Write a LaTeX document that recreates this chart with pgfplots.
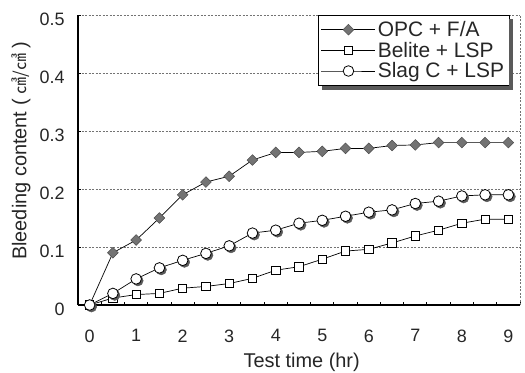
\documentclass[border=0pt]{standalone}
\usepackage{fontspec}
\setmainfont{Liberation Sans}
\newfontfamily\cjk{Noto Sans CJK KR}
\usepackage{pgfplots}
\usepackage{pgfplotstable}
\pgfplotsset{compat=1.18}
\definecolor{shadowgray}{RGB}{90,90,90}
\pgfplotstableread{
t    opc    bel    slag
0    0      0      0
0.5  0.090  0.012  0.020
1    0.112  0.018  0.045
1.5  0.150  0.020  0.064
2    0.190  0.029  0.077
2.5  0.212  0.032  0.089
3    0.222  0.037  0.102
3.5  0.250  0.046  0.124
4    0.263  0.060  0.129
4.5  0.263  0.066  0.141
5    0.265  0.079  0.146
5.5  0.270  0.093  0.153
6    0.270  0.096  0.160
6.5  0.275  0.107  0.164
7    0.276  0.119  0.175
7.5  0.280  0.129  0.179
8    0.280  0.141  0.188
8.5  0.280  0.148  0.190
9    0.280  0.148  0.190
}\data
\begin{document}
\begin{tikzpicture}
\begin{axis}[
  scale only axis, width=442bp, height=290bp,
  xmin=-0.25, xmax=9.25, ymin=0, ymax=0.5,
  axis x line*=bottom, axis y line*=left,
  axis line style={line width=1.6bp, -},
  xtick={0,...,9}, ytick={0,0.1,0.2,0.3,0.4,0.5},
  minor xtick={0.25,0.75,...,9},
  major x tick style={draw=none},
  tick align=inside,
  major tick length=3bp, minor tick length=3bp,
  tick style={black, line width=1bp},
  ymajorgrids,
  grid style={dash pattern=on 2bp off 1.5bp, black!55, line width=0.5bp},
  /pgf/number format/assume math mode=true,
  yticklabel style={/pgf/number format/fixed, /pgf/number format/precision=1, xshift=-10bp, yshift=-4bp},
  xticklabel style={yshift=-21bp},
  tick label style={font=\fontsize{18}{20}\selectfont, text=black!85},
  every axis y label/.style={at={(axis description cs:-0.129,0.531)}, rotate=90, anchor=center},
  every axis x label/.style={at={(axis description cs:0.506,-0.197)}, anchor=center, inner sep=0pt},
  label style={font=\fontsize{20}{22}\selectfont, text=black!85},
  xlabel={Test time (hr)},
  ylabel={Bleeding content (\hspace{5bp}{\cjk\fontsize{17}{17}\selectfont ㎤/㎤}\hspace{5bp})},
  legend style={name=leg, at={(0.976,1)}, anchor=north east, draw=black, line width=0.8bp, fill=white,
    font=\fontsize{21}{24}\selectfont, text=black!85, inner xsep=3bp, inner ysep=4bp, row sep=0bp},
  legend cell align=left,
  legend image code/.code={
    \draw[mark repeat=2, mark phase=2, #1] plot coordinates {(0bp,0bp) (27bp,0bp) (54bp,0bp)};
  },
  clip=false,
]
\coordinate (bl) at (rel axis cs:0,0);
\coordinate (tr) at (rel axis cs:1,1);
\draw[dash pattern=on 2bp off 1.5bp, black!55, line width=0.5bp] (rel axis cs:1,0) -- (rel axis cs:1,1);
\addplot[black, line width=0.7bp, mark=square*, mark size=3.8bp, mark options={rotate=45, fill=black!55, draw=black!70, line width=0.5bp}] table[x=t, y=opc]{\data};
\addlegendentry{OPC + F/A}
\addplot[black, line width=0.7bp, mark=square*, mark size=4.2bp, mark options={fill=white, draw=black, line width=0.8bp}] table[x=t, y=bel]{\data};
\addlegendentry{Belite + LSP}
\addplot[forget plot, only marks, mark=*, mark size=5.3bp, mark options={fill=black!65, draw=black!65, xshift=1.8bp, yshift=-1.8bp}] table[x=t, y=slag]{\data};
\addplot[black, line width=0.7bp, mark=*, mark size=5.3bp, mark options={fill=white, draw=black, line width=0.8bp}] table[x=t, y=slag]{\data};
\addlegendentry{Slag C + LSP}
\end{axis}
\fill[shadowgray] ([yshift=-4bp]leg.north east) rectangle ([xshift=4bp,yshift=-4bp]leg.south east);
\fill[shadowgray] ([xshift=4bp]leg.south west) rectangle ([xshift=4bp,yshift=-4bp]leg.south east);
\pgfresetboundingbox
\path ([shift={(-78bp,-67bp)}]bl) rectangle ([shift={(5bp,15bp)}]tr);
\end{tikzpicture}
\end{document}
